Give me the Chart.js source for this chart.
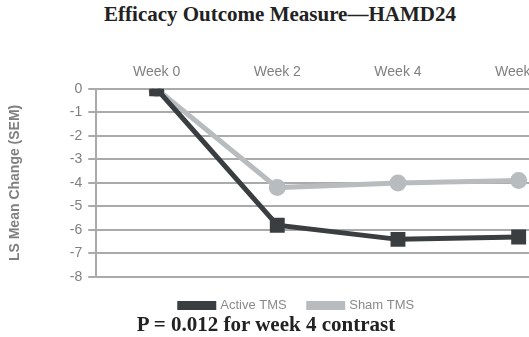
<!DOCTYPE html>
<html>
<head>
<meta charset="utf-8">
<script src="https://cdn.jsdelivr.net/npm/chart.js@4"></script>
<style>
  html, body { margin: 0; padding: 0; background: #fff; overflow: hidden; }
  body { width: 529px; height: 337px; position: relative; }
  .title { position: absolute; left: 0; width: 560px; top: 2px; text-align: center;
    font-family: "Liberation Serif", serif; font-weight: bold; font-size: 21px; color: #222; }
  .note { position: absolute; left: 0; width: 532px; top: 312px; text-align: center;
    font-family: "Liberation Serif", serif; font-weight: bold; font-size: 21px; color: #222; }
  #wrap { position: absolute; left: 0; top: 45px; width: 591px; height: 277px; }
</style>
</head>
<body>
<div class="title">Efficacy Outcome Measure—HAMD24</div>
<div id="wrap"><canvas id="chart"></canvas></div>
<div class="note">P = 0.012 for week 4 contrast</div>
<script>
const weeks = ['Week 0', 'Week 2', 'Week 4', 'Week 6'];
const activeTMS = [0, -5.8, -6.4, -6.3];
const shamTMS = [0, -4.2, -4.0, -3.9];

const ctx = document.getElementById('chart').getContext('2d');
new Chart(ctx, {
  type: 'line',
  data: {
    labels: weeks,
    datasets: [
      {
        label: 'Active TMS',
        data: activeTMS,
        borderColor: '#3b3e40',
        backgroundColor: '#3b3e40',
        borderWidth: 5,
        pointStyle: 'rect',
        pointRadius: 7,
        tension: 0,
      },
      {
        label: 'Sham TMS',
        data: shamTMS,
        borderColor: '#b9bcbe',
        backgroundColor: '#b9bcbe',
        borderWidth: 5,
        pointStyle: 'circle',
        pointRadius: 6,
        tension: 0,
      },
    ],
  },
  options: {
    responsive: true,
    maintainAspectRatio: false,
    animation: false,
    layout: { padding: { left: 7, right: 4, top: 19, bottom: 0 } },
    plugins: {
      legend: {
        position: 'bottom',
        labels: {
          boxWidth: 34,
          boxHeight: 4,
          color: '#8a8a8a',
          font: { family: 'Liberation Sans', size: 13 },
          padding: 22,
        },
      },
      tooltip: { enabled: false },
    },
    scales: {
      x: {
        position: 'top',
        offset: true,
        grid: { display: false },
        border: { display: false },
        ticks: { color: '#808080', font: { family: 'Liberation Sans', size: 14 }, padding: 0 },
      },
      y: {
        min: -8,
        max: 0,
        ticks: { stepSize: 1, color: '#808080', font: { family: 'Liberation Sans', size: 14 }, padding: 6 },
        grid: { color: '#aaa', lineWidth: 2, tickLength: 8 },
        border: { color: '#aaa', width: 2 },
        title: {
          display: true,
          text: 'LS Mean Change (SEM)',
          color: '#808080',
          font: { family: 'Liberation Sans', size: 14, weight: 'bold' },
          padding: { top: 0, bottom: 40 },
        },
      },
    },
  },
});
</script>
</body>
</html>
